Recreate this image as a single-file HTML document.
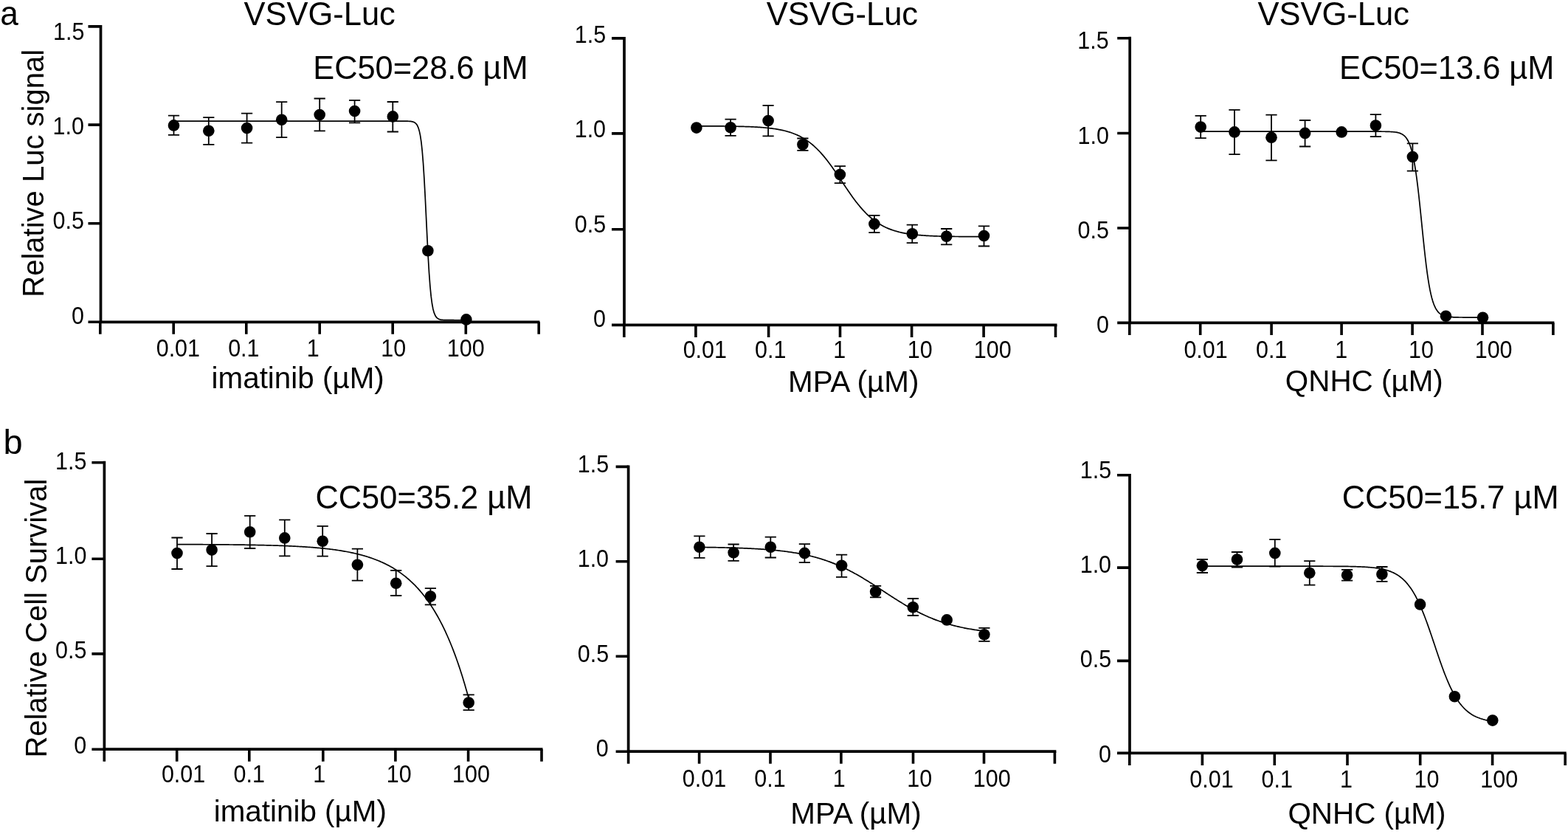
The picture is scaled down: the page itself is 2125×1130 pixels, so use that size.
<!DOCTYPE html>
<html><head><meta charset="utf-8"><title>Dose-response curves</title>
<style>html,body{margin:0;padding:0;background:#fff;overflow:hidden}svg{display:block}</style>
</head><body>
<svg width="2125" height="1130" viewBox="0 0 2125 1130">
<rect width="2125" height="1130" fill="#fff"/>
<g font-family='"Liberation Sans", Arial, Helvetica, sans-serif' fill="#000">
<path d="M136.5 34.05V436.3M134.65 436.3H731.4" stroke="#000" stroke-width="3.7" fill="none" stroke-linecap="butt"/>
<path d="M119.5 35.9H136.5M119.5 169.1H136.5M119.5 302.8H136.5M119.5 436.3H136.5M135.8 436.3V452.8M235.2 436.3V452.8M333.8 436.3V452.8M433.2 436.3V452.8M532.2 436.3V452.8M631.3 436.3V452.8M730.2 436.3V452.8" stroke="#000" stroke-width="3.6" fill="none"/>
<text transform="matrix(1 0 0 1.06 72 53.7)" font-size="30.5">1.5</text>
<text transform="matrix(1 0 0 1.06 71.5 182.4)" font-size="30.5">1.0</text>
<text transform="matrix(1 0 0 1.06 71.6 310.4)" font-size="30.5">0.5</text>
<text transform="matrix(1 0 0 1.06 97.1 438.8)" font-size="30.5">0</text>
<text transform="matrix(1 0 0 1.06 211.7 482.5)" font-size="30.5">0.01</text>
<text transform="matrix(1 0 0 1.06 309.15 482.5)" font-size="30.5">0.1</text>
<text transform="matrix(1 0 0 1.06 415.65 482.5)" font-size="30.5">1</text>
<text transform="matrix(1 0 0 1.06 516.35 482.5)" font-size="30.5">10</text>
<text transform="matrix(1 0 0 1.06 605.8 482.5)" font-size="30.5">100</text>
<text x="286.55" y="526.2" font-size="40.4">imatinib (µM)</text>
<text transform="matrix(1 0 0 1.04 330.4 33.5)" font-size="43.5">VSVG-Luc</text>
<text transform="matrix(1 0 0 1.04 424.2 106.7)" font-size="43.4">EC50=28.6 µM</text>
<polyline points="235.5,164.08 236.83,164.08 238.15,164.08 239.48,164.08 240.8,164.08 242.13,164.08 243.45,164.08 244.78,164.08 246.11,164.08 247.43,164.08 248.76,164.08 250.08,164.08 251.41,164.08 252.73,164.08 254.06,164.08 255.39,164.08 256.71,164.08 258.04,164.08 259.36,164.08 260.69,164.08 262.02,164.08 263.34,164.08 264.67,164.08 265.99,164.08 267.32,164.08 268.64,164.08 269.97,164.08 271.3,164.08 272.62,164.08 273.95,164.08 275.27,164.08 276.6,164.08 277.92,164.08 279.25,164.08 280.58,164.08 281.9,164.08 283.23,164.08 284.55,164.08 285.88,164.08 287.2,164.08 288.53,164.08 289.86,164.08 291.18,164.08 292.51,164.08 293.83,164.08 295.16,164.08 296.48,164.08 297.81,164.08 299.14,164.08 300.46,164.08 301.79,164.08 303.11,164.08 304.44,164.08 305.76,164.08 307.09,164.08 308.42,164.08 309.74,164.08 311.07,164.08 312.39,164.08 313.72,164.08 315.05,164.08 316.37,164.08 317.7,164.08 319.02,164.08 320.35,164.08 321.67,164.08 323,164.08 324.33,164.08 325.65,164.08 326.98,164.08 328.3,164.08 329.63,164.08 330.95,164.08 332.28,164.08 333.61,164.08 334.93,164.08 336.26,164.08 337.58,164.08 338.91,164.08 340.23,164.08 341.56,164.08 342.89,164.08 344.21,164.08 345.54,164.08 346.86,164.08 348.19,164.08 349.51,164.08 350.84,164.08 352.17,164.08 353.49,164.08 354.82,164.08 356.14,164.08 357.47,164.08 358.79,164.08 360.12,164.08 361.45,164.08 362.77,164.08 364.1,164.08 365.42,164.08 366.75,164.08 368.08,164.08 369.4,164.08 370.73,164.08 372.05,164.08 373.38,164.08 374.7,164.08 376.03,164.08 377.36,164.08 378.68,164.08 380.01,164.08 381.33,164.08 382.66,164.08 383.98,164.08 385.31,164.08 386.64,164.08 387.96,164.08 389.29,164.08 390.61,164.08 391.94,164.08 393.26,164.08 394.59,164.08 395.92,164.08 397.24,164.08 398.57,164.08 399.89,164.08 401.22,164.08 402.54,164.08 403.87,164.08 405.2,164.08 406.52,164.08 407.85,164.08 409.17,164.08 410.5,164.08 411.83,164.08 413.15,164.08 414.48,164.08 415.8,164.08 417.13,164.08 418.45,164.08 419.78,164.08 421.11,164.08 422.43,164.08 423.76,164.08 425.08,164.08 426.41,164.08 427.73,164.08 429.06,164.08 430.39,164.08 431.71,164.08 433.04,164.08 434.36,164.08 435.69,164.08 437.01,164.08 438.34,164.08 439.67,164.08 440.99,164.08 442.32,164.08 443.64,164.08 444.97,164.08 446.29,164.08 447.62,164.08 448.95,164.08 450.27,164.08 451.6,164.08 452.92,164.08 454.25,164.08 455.57,164.08 456.9,164.08 458.23,164.08 459.55,164.08 460.88,164.08 462.2,164.08 463.53,164.08 464.86,164.08 466.18,164.08 467.51,164.08 468.83,164.08 470.16,164.08 471.48,164.08 472.81,164.08 474.14,164.08 475.46,164.08 476.79,164.08 478.11,164.08 479.44,164.08 480.76,164.08 482.09,164.08 483.42,164.08 484.74,164.08 486.07,164.08 487.39,164.08 488.72,164.08 490.04,164.08 491.37,164.08 492.7,164.08 494.02,164.08 495.35,164.08 496.67,164.08 498,164.08 499.32,164.08 500.65,164.08 501.98,164.08 503.3,164.08 504.63,164.08 505.95,164.08 507.28,164.08 508.61,164.08 509.93,164.08 511.26,164.08 512.58,164.08 513.91,164.08 515.23,164.08 516.56,164.08 517.89,164.08 519.21,164.08 520.54,164.08 521.86,164.08 523.19,164.08 524.51,164.08 525.84,164.08 527.17,164.08 528.49,164.08 529.82,164.08 531.14,164.08 532.47,164.09 533.79,164.09 535.12,164.09 536.45,164.09 537.77,164.09 539.1,164.09 540.42,164.09 541.75,164.09 543.07,164.09 544.4,164.09 545.73,164.1 547.05,164.1 548.38,164.11 549.7,164.13 551.03,164.15 552.35,164.18 553.68,164.24 555.01,164.31 556.33,164.43 557.66,164.6 558.98,164.86 560.31,165.26 561.64,165.86 562.96,166.75 564.29,168.09 565.61,170.09 566.94,173.05 568.26,177.39 569.59,183.68 570.92,192.62 572.24,204.96 573.57,221.37 574.89,242.13 576.22,266.77 577.54,293.91 578.87,321.47 580.2,347.22 581.52,369.47 582.85,387.45 584.17,401.19 585.5,411.26 586.82,418.42 588.15,423.39 589.48,426.79 590.8,429.09 592.13,430.64 593.45,431.67 594.78,432.36 596.1,432.82 597.43,433.13 598.76,433.33 600.08,433.46 601.41,433.55 602.73,433.61 604.06,433.65 605.38,433.68 606.71,433.69 608.04,433.7 609.36,433.71 610.69,433.72 612.01,433.72 613.34,433.72 614.67,433.72 615.99,433.73 617.32,433.73 618.64,433.73 619.97,433.73 621.29,433.73 622.62,433.73 623.95,433.73 625.27,433.73 626.6,433.73 627.92,433.73 629.25,433.73 630.57,433.73 631.9,433.73" fill="none" stroke="#000" stroke-width="1.7" stroke-linejoin="round"/>
<path d="M235.5 156.7V182.8M227.9 156.7H243.1M227.9 182.8H243.1M282.8 159.2V195.9M275.2 159.2H290.4M275.2 195.9H290.4M334.6 153.6V193.7M327 153.6H342.2M327 193.7H342.2M381.7 138.1V186.1M374.1 138.1H389.3M374.1 186.1H389.3M433.2 133.5V177.3M425.6 133.5H440.8M425.6 177.3H440.8M480.6 135.9V166.3M473 135.9H488.2M473 166.3H488.2M532.3 138V178.5M524.7 138H539.9M524.7 178.5H539.9" stroke="#000" stroke-width="1.8" fill="none"/>
<circle cx="235.5" cy="169.9" r="7.8"/>
<circle cx="282.8" cy="177.3" r="7.8"/>
<circle cx="334.6" cy="173.6" r="7.8"/>
<circle cx="381.7" cy="162.2" r="7.8"/>
<circle cx="433.2" cy="155.5" r="7.8"/>
<circle cx="480.6" cy="150.6" r="7.8"/>
<circle cx="532.3" cy="157.9" r="7.8"/>
<circle cx="579.9" cy="339.8" r="7.8"/>
<circle cx="631.9" cy="432.9" r="7.8"/>
<path d="M846 50.05V440.4M844.15 440.4H1432.5" stroke="#000" stroke-width="3.7" fill="none" stroke-linecap="butt"/>
<path d="M829 51.9H846M829 180.9H846M829 310.7H846M829 440.4H846M845.8 440.4V456.9M942.9 440.4V456.9M1041.6 440.4V456.9M1138.5 440.4V456.9M1235.6 440.4V456.9M1333.1 440.4V456.9M1430.5 440.4V456.9" stroke="#000" stroke-width="3.6" fill="none"/>
<text transform="matrix(1 0 0 1.06 778.8 57.8)" font-size="30.5">1.5</text>
<text transform="matrix(1 0 0 1.06 778.7 186.1)" font-size="30.5">1.0</text>
<text transform="matrix(1 0 0 1.06 778.8 314.5)" font-size="30.5">0.5</text>
<text transform="matrix(1 0 0 1.06 804.1 442.7)" font-size="30.5">0</text>
<text transform="matrix(1 0 0 1.06 925.65 484.5)" font-size="30.5">0.01</text>
<text transform="matrix(1 0 0 1.06 1023 484.5)" font-size="30.5">0.1</text>
<text transform="matrix(1 0 0 1.06 1129.35 484.5)" font-size="30.5">1</text>
<text transform="matrix(1 0 0 1.06 1229.7 484.5)" font-size="30.5">10</text>
<text transform="matrix(1 0 0 1.06 1319.75 484.5)" font-size="30.5">100</text>
<text x="1068" y="530.5" font-size="40.4">MPA (µM)</text>
<text transform="matrix(1 0 0 1.04 1038.7 33.5)" font-size="43.5">VSVG-Luc</text>
<polyline points="943.9,170.78 945.2,170.78 946.51,170.79 947.81,170.79 949.11,170.79 950.42,170.8 951.72,170.8 953.02,170.8 954.32,170.81 955.63,170.81 956.93,170.82 958.23,170.82 959.54,170.83 960.84,170.83 962.14,170.84 963.45,170.85 964.75,170.85 966.05,170.86 967.35,170.87 968.66,170.88 969.96,170.88 971.26,170.89 972.57,170.9 973.87,170.91 975.17,170.92 976.48,170.93 977.78,170.94 979.08,170.95 980.38,170.97 981.69,170.98 982.99,170.99 984.29,171.01 985.6,171.02 986.9,171.04 988.2,171.06 989.51,171.07 990.81,171.09 992.11,171.11 993.41,171.13 994.72,171.15 996.02,171.18 997.32,171.2 998.63,171.23 999.93,171.25 1001.23,171.28 1002.54,171.31 1003.84,171.34 1005.14,171.38 1006.44,171.41 1007.75,171.45 1009.05,171.49 1010.35,171.53 1011.66,171.57 1012.96,171.62 1014.26,171.66 1015.57,171.71 1016.87,171.77 1018.17,171.82 1019.47,171.88 1020.78,171.94 1022.08,172.01 1023.38,172.07 1024.69,172.15 1025.99,172.22 1027.29,172.3 1028.6,172.38 1029.9,172.47 1031.2,172.56 1032.5,172.66 1033.81,172.76 1035.11,172.87 1036.41,172.98 1037.72,173.1 1039.02,173.23 1040.32,173.36 1041.63,173.5 1042.93,173.64 1044.23,173.8 1045.53,173.96 1046.84,174.13 1048.14,174.31 1049.44,174.49 1050.75,174.69 1052.05,174.89 1053.35,175.11 1054.66,175.34 1055.96,175.58 1057.26,175.83 1058.56,176.09 1059.87,176.37 1061.17,176.66 1062.47,176.96 1063.78,177.28 1065.08,177.62 1066.38,177.97 1067.69,178.34 1068.99,178.72 1070.29,179.13 1071.59,179.55 1072.9,179.99 1074.2,180.46 1075.5,180.94 1076.81,181.45 1078.11,181.98 1079.41,182.54 1080.72,183.12 1082.02,183.72 1083.32,184.36 1084.63,185.02 1085.93,185.71 1087.23,186.42 1088.53,187.17 1089.84,187.95 1091.14,188.76 1092.44,189.61 1093.75,190.48 1095.05,191.4 1096.35,192.34 1097.66,193.33 1098.96,194.35 1100.26,195.4 1101.56,196.5 1102.87,197.63 1104.17,198.8 1105.47,200.01 1106.78,201.26 1108.08,202.54 1109.38,203.87 1110.69,205.24 1111.99,206.64 1113.29,208.09 1114.59,209.57 1115.9,211.09 1117.2,212.65 1118.5,214.24 1119.81,215.87 1121.11,217.53 1122.41,219.22 1123.72,220.95 1125.02,222.71 1126.32,224.49 1127.62,226.31 1128.93,228.14 1130.23,230 1131.53,231.88 1132.84,233.78 1134.14,235.69 1135.44,237.62 1136.75,239.56 1138.05,241.51 1139.35,243.46 1140.65,245.41 1141.96,247.37 1143.26,249.32 1144.56,251.27 1145.87,253.21 1147.17,255.15 1148.47,257.06 1149.78,258.97 1151.08,260.85 1152.38,262.72 1153.68,264.57 1154.99,266.39 1156.29,268.18 1157.59,269.95 1158.9,271.69 1160.2,273.4 1161.5,275.07 1162.81,276.71 1164.11,278.32 1165.41,279.89 1166.71,281.42 1168.02,282.91 1169.32,284.37 1170.62,285.79 1171.93,287.17 1173.23,288.51 1174.53,289.81 1175.84,291.08 1177.14,292.3 1178.44,293.48 1179.74,294.63 1181.05,295.74 1182.35,296.81 1183.65,297.84 1184.96,298.83 1186.26,299.79 1187.56,300.72 1188.87,301.61 1190.17,302.46 1191.47,303.29 1192.77,304.08 1194.08,304.84 1195.38,305.57 1196.68,306.26 1197.99,306.93 1199.29,307.58 1200.59,308.19 1201.9,308.78 1203.2,309.35 1204.5,309.89 1205.81,310.4 1207.11,310.89 1208.41,311.37 1209.71,311.82 1211.02,312.25 1212.32,312.66 1213.62,313.05 1214.93,313.42 1216.23,313.78 1217.53,314.12 1218.84,314.45 1220.14,314.76 1221.44,315.05 1222.74,315.33 1224.05,315.6 1225.35,315.86 1226.65,316.1 1227.96,316.33 1229.26,316.55 1230.56,316.76 1231.87,316.96 1233.17,317.15 1234.47,317.33 1235.77,317.51 1237.08,317.67 1238.38,317.83 1239.68,317.97 1240.99,318.12 1242.29,318.25 1243.59,318.38 1244.9,318.5 1246.2,318.61 1247.5,318.72 1248.8,318.83 1250.11,318.93 1251.41,319.02 1252.71,319.11 1254.02,319.19 1255.32,319.28 1256.62,319.35 1257.93,319.42 1259.23,319.49 1260.53,319.56 1261.83,319.62 1263.14,319.68 1264.44,319.74 1265.74,319.79 1267.05,319.84 1268.35,319.89 1269.65,319.94 1270.96,319.98 1272.26,320.02 1273.56,320.06 1274.86,320.1 1276.17,320.13 1277.47,320.17 1278.77,320.2 1280.08,320.23 1281.38,320.26 1282.68,320.29 1283.99,320.31 1285.29,320.34 1286.59,320.36 1287.89,320.38 1289.2,320.4 1290.5,320.42 1291.8,320.44 1293.11,320.46 1294.41,320.48 1295.71,320.49 1297.02,320.51 1298.32,320.52 1299.62,320.54 1300.92,320.55 1302.23,320.56 1303.53,320.58 1304.83,320.59 1306.14,320.6 1307.44,320.61 1308.74,320.62 1310.05,320.63 1311.35,320.64 1312.65,320.64 1313.95,320.65 1315.26,320.66 1316.56,320.67 1317.86,320.67 1319.17,320.68 1320.47,320.69 1321.77,320.69 1323.08,320.7 1324.38,320.7 1325.68,320.71 1326.98,320.71 1328.29,320.72 1329.59,320.72 1330.89,320.73 1332.2,320.73 1333.5,320.73" fill="none" stroke="#000" stroke-width="1.7" stroke-linejoin="round"/>
<path d="M990.1 161.6V183.8M982.5 161.6H997.7M982.5 183.8H997.7M1041.1 142.8V184.4M1033.5 142.8H1048.7M1033.5 184.4H1048.7M1087.9 187.5V203.8M1080.3 187.5H1095.5M1080.3 203.8H1095.5M1138.4 225.1V248.1M1130.8 225.1H1146M1130.8 248.1H1146M1184.9 291.9V315.2M1177.3 291.9H1192.5M1177.3 315.2H1192.5M1236.3 304.7V329.2M1228.7 304.7H1243.9M1228.7 329.2H1243.9M1282.7 310V331.3M1275.1 310H1290.3M1275.1 331.3H1290.3M1333.5 306.3V333.5M1325.9 306.3H1341.1M1325.9 333.5H1341.1" stroke="#000" stroke-width="1.8" fill="none"/>
<circle cx="943.9" cy="173.1" r="7.8"/>
<circle cx="990.1" cy="172.8" r="7.8"/>
<circle cx="1041.1" cy="163.6" r="7.8"/>
<circle cx="1087.9" cy="195.8" r="7.8"/>
<circle cx="1138.4" cy="236.5" r="7.8"/>
<circle cx="1184.9" cy="303.4" r="7.8"/>
<circle cx="1236.3" cy="316.7" r="7.8"/>
<circle cx="1282.7" cy="320.2" r="7.8"/>
<circle cx="1333.5" cy="319.5" r="7.8"/>
<path d="M1531.2 49.85V437.4M1529.35 437.4H2106.4" stroke="#000" stroke-width="3.7" fill="none" stroke-linecap="butt"/>
<path d="M1514.2 51.7H1531.2M1514.2 180.5H1531.2M1514.2 309H1531.2M1514.2 437.4H1531.2M1530.8 437.4V453.9M1626.7 437.4V453.9M1723.1 437.4V453.9M1818.1 437.4V453.9M1914.1 437.4V453.9M2009 437.4V453.9M2104.9 437.4V453.9" stroke="#000" stroke-width="3.6" fill="none"/>
<text transform="matrix(1 0 0 1.06 1460.3 65.8)" font-size="30.5">1.5</text>
<text transform="matrix(1 0 0 1.06 1460.5 194.6)" font-size="30.5">1.0</text>
<text transform="matrix(1 0 0 1.06 1460.6 322.7)" font-size="30.5">0.5</text>
<text transform="matrix(1 0 0 1.06 1485.9 450.7)" font-size="30.5">0</text>
<text transform="matrix(1 0 0 1.06 1604.4 484.7)" font-size="30.5">0.01</text>
<text transform="matrix(1 0 0 1.06 1701.95 484.7)" font-size="30.5">0.1</text>
<text transform="matrix(1 0 0 1.06 1809.15 484.7)" font-size="30.5">1</text>
<text transform="matrix(1 0 0 1.06 1909.05 484.7)" font-size="30.5">10</text>
<text transform="matrix(1 0 0 1.06 1998.7 484.7)" font-size="30.5">100</text>
<text x="1741.8" y="530.1" font-size="40.4">QNHC (µM)</text>
<text transform="matrix(1 0 0 1.04 1704.5 33.5)" font-size="43.5">VSVG-Luc</text>
<text transform="matrix(1 0 0 1.04 1814.95 106.7)" font-size="43.4">EC50=13.6 µM</text>
<polyline points="1627.2,178.18 1628.48,178.18 1629.76,178.18 1631.04,178.18 1632.31,178.18 1633.59,178.18 1634.87,178.18 1636.15,178.18 1637.43,178.18 1638.71,178.18 1639.99,178.18 1641.26,178.18 1642.54,178.18 1643.82,178.18 1645.1,178.18 1646.38,178.18 1647.66,178.18 1648.94,178.18 1650.21,178.18 1651.49,178.18 1652.77,178.18 1654.05,178.18 1655.33,178.18 1656.61,178.18 1657.89,178.18 1659.16,178.18 1660.44,178.18 1661.72,178.18 1663,178.18 1664.28,178.18 1665.56,178.18 1666.84,178.18 1668.12,178.18 1669.39,178.18 1670.67,178.18 1671.95,178.18 1673.23,178.18 1674.51,178.18 1675.79,178.18 1677.07,178.18 1678.34,178.18 1679.62,178.18 1680.9,178.18 1682.18,178.18 1683.46,178.18 1684.74,178.18 1686.02,178.18 1687.29,178.18 1688.57,178.18 1689.85,178.18 1691.13,178.18 1692.41,178.18 1693.69,178.18 1694.97,178.18 1696.24,178.18 1697.52,178.18 1698.8,178.18 1700.08,178.18 1701.36,178.18 1702.64,178.18 1703.92,178.18 1705.19,178.18 1706.47,178.18 1707.75,178.18 1709.03,178.18 1710.31,178.18 1711.59,178.18 1712.87,178.18 1714.14,178.18 1715.42,178.18 1716.7,178.18 1717.98,178.18 1719.26,178.18 1720.54,178.18 1721.82,178.18 1723.09,178.18 1724.37,178.18 1725.65,178.18 1726.93,178.18 1728.21,178.18 1729.49,178.18 1730.77,178.18 1732.04,178.18 1733.32,178.18 1734.6,178.18 1735.88,178.18 1737.16,178.18 1738.44,178.18 1739.72,178.18 1740.99,178.18 1742.27,178.18 1743.55,178.18 1744.83,178.18 1746.11,178.18 1747.39,178.18 1748.67,178.18 1749.95,178.18 1751.22,178.18 1752.5,178.18 1753.78,178.18 1755.06,178.18 1756.34,178.18 1757.62,178.18 1758.9,178.18 1760.17,178.18 1761.45,178.18 1762.73,178.18 1764.01,178.18 1765.29,178.18 1766.57,178.18 1767.85,178.18 1769.12,178.18 1770.4,178.18 1771.68,178.18 1772.96,178.18 1774.24,178.18 1775.52,178.18 1776.8,178.18 1778.07,178.18 1779.35,178.18 1780.63,178.18 1781.91,178.18 1783.19,178.18 1784.47,178.18 1785.75,178.18 1787.02,178.18 1788.3,178.18 1789.58,178.18 1790.86,178.18 1792.14,178.18 1793.42,178.18 1794.7,178.18 1795.97,178.18 1797.25,178.18 1798.53,178.18 1799.81,178.18 1801.09,178.18 1802.37,178.18 1803.65,178.18 1804.92,178.18 1806.2,178.18 1807.48,178.18 1808.76,178.18 1810.04,178.18 1811.32,178.18 1812.6,178.18 1813.87,178.18 1815.15,178.18 1816.43,178.18 1817.71,178.18 1818.99,178.18 1820.27,178.18 1821.55,178.18 1822.83,178.18 1824.1,178.18 1825.38,178.18 1826.66,178.18 1827.94,178.18 1829.22,178.18 1830.5,178.18 1831.78,178.18 1833.05,178.18 1834.33,178.18 1835.61,178.18 1836.89,178.18 1838.17,178.19 1839.45,178.19 1840.73,178.19 1842,178.19 1843.28,178.19 1844.56,178.19 1845.84,178.19 1847.12,178.19 1848.4,178.19 1849.68,178.19 1850.95,178.19 1852.23,178.19 1853.51,178.19 1854.79,178.19 1856.07,178.19 1857.35,178.19 1858.63,178.19 1859.9,178.19 1861.18,178.19 1862.46,178.19 1863.74,178.2 1865.02,178.2 1866.3,178.2 1867.58,178.21 1868.85,178.21 1870.13,178.22 1871.41,178.22 1872.69,178.23 1873.97,178.24 1875.25,178.26 1876.53,178.27 1877.8,178.29 1879.08,178.32 1880.36,178.35 1881.64,178.38 1882.92,178.43 1884.2,178.48 1885.48,178.55 1886.75,178.63 1888.03,178.73 1889.31,178.85 1890.59,179 1891.87,179.18 1893.15,179.4 1894.43,179.67 1895.71,180 1896.98,180.4 1898.26,180.9 1899.54,181.49 1900.82,182.22 1902.1,183.11 1903.38,184.19 1904.66,185.49 1905.93,187.07 1907.21,188.97 1908.49,191.26 1909.77,194.01 1911.05,197.28 1912.33,201.17 1913.61,205.75 1914.88,211.12 1916.16,217.34 1917.44,224.5 1918.72,232.62 1920,241.74 1921.28,251.81 1922.56,262.76 1923.83,274.45 1925.11,286.72 1926.39,299.33 1927.67,312.04 1928.95,324.59 1930.23,336.73 1931.51,348.26 1932.78,359.01 1934.06,368.84 1935.34,377.72 1936.62,385.6 1937.9,392.52 1939.18,398.53 1940.46,403.7 1941.73,408.1 1943.01,411.83 1944.29,414.97 1945.57,417.59 1946.85,419.78 1948.13,421.6 1949.41,423.11 1950.68,424.35 1951.96,425.38 1953.24,426.22 1954.52,426.92 1955.8,427.49 1957.08,427.96 1958.36,428.34 1959.63,428.66 1960.91,428.91 1962.19,429.12 1963.47,429.3 1964.75,429.44 1966.03,429.55 1967.31,429.65 1968.58,429.72 1969.86,429.79 1971.14,429.84 1972.42,429.88 1973.7,429.92 1974.98,429.94 1976.26,429.97 1977.54,429.99 1978.81,430 1980.09,430.01 1981.37,430.02 1982.65,430.03 1983.93,430.04 1985.21,430.05 1986.49,430.05 1987.76,430.05 1989.04,430.06 1990.32,430.06 1991.6,430.06 1992.88,430.06 1994.16,430.06 1995.44,430.07 1996.71,430.07 1997.99,430.07 1999.27,430.07 2000.55,430.07 2001.83,430.07 2003.11,430.07 2004.39,430.07 2005.66,430.07 2006.94,430.07 2008.22,430.07 2009.5,430.07" fill="none" stroke="#000" stroke-width="1.7" stroke-linejoin="round"/>
<path d="M1627.2 156.8V187.1M1619.6 156.8H1634.8M1619.6 187.1H1634.8M1673 148.9V209.1M1665.4 148.9H1680.6M1665.4 209.1H1680.6M1723 155.7V217.3M1715.4 155.7H1730.6M1715.4 217.3H1730.6M1768.6 163V198.5M1761 163H1776.2M1761 198.5H1776.2M1864.4 155.1V185.2M1856.8 155.1H1872M1856.8 185.2H1872M1914.4 194.4V231.6M1906.8 194.4H1922M1906.8 231.6H1922" stroke="#000" stroke-width="1.8" fill="none"/>
<circle cx="1627.2" cy="172.1" r="7.8"/>
<circle cx="1673" cy="178.9" r="7.8"/>
<circle cx="1723" cy="186.3" r="7.8"/>
<circle cx="1768.6" cy="180.4" r="7.8"/>
<circle cx="1818.2" cy="178.9" r="7.8"/>
<circle cx="1864.4" cy="170" r="7.8"/>
<circle cx="1914.4" cy="212.5" r="7.8"/>
<circle cx="1959.5" cy="428.2" r="7.8"/>
<circle cx="2009.5" cy="430.3" r="7.8"/>
<path d="M141.4 624.85V1015.2M139.55 1015.2H735.5" stroke="#000" stroke-width="3.7" fill="none" stroke-linecap="butt"/>
<path d="M124.4 626.7H141.4M124.4 757.2H141.4M124.4 885.9H141.4M124.4 1015.2H141.4M141.3 1015.2V1031.7M239.7 1015.2V1031.7M337.8 1015.2V1031.7M437.8 1015.2V1031.7M535.9 1015.2V1031.7M634.6 1015.2V1031.7M734 1015.2V1031.7" stroke="#000" stroke-width="3.6" fill="none"/>
<text transform="matrix(1 0 0 1.06 75.1 635.6)" font-size="30.5">1.5</text>
<text transform="matrix(1 0 0 1.06 75 764)" font-size="30.5">1.0</text>
<text transform="matrix(1 0 0 1.06 75.1 892.3)" font-size="30.5">0.5</text>
<text transform="matrix(1 0 0 1.06 100.2 1020.6)" font-size="30.5">0</text>
<text transform="matrix(1 0 0 1.06 218.9 1060.3)" font-size="30.5">0.01</text>
<text transform="matrix(1 0 0 1.06 316.5 1060.3)" font-size="30.5">0.1</text>
<text transform="matrix(1 0 0 1.06 424.35 1060.3)" font-size="30.5">1</text>
<text transform="matrix(1 0 0 1.06 523.7 1060.3)" font-size="30.5">10</text>
<text transform="matrix(1 0 0 1.06 613.1 1060.3)" font-size="30.5">100</text>
<text x="289.7" y="1112.6" font-size="40.4">imatinib (µM)</text>
<text transform="matrix(1 0 0 1.04 427.45 688.9)" font-size="43.4">CC50=35.2 µM</text>
<polyline points="240,737.59 241.32,737.6 242.64,737.6 243.97,737.61 245.29,737.61 246.61,737.61 247.93,737.62 249.25,737.62 250.57,737.63 251.9,737.63 253.22,737.63 254.54,737.64 255.86,737.64 257.18,737.65 258.5,737.65 259.83,737.66 261.15,737.66 262.47,737.67 263.79,737.67 265.11,737.68 266.43,737.68 267.76,737.69 269.08,737.7 270.4,737.7 271.72,737.71 273.04,737.71 274.37,737.72 275.69,737.73 277.01,737.73 278.33,737.74 279.65,737.75 280.97,737.76 282.3,737.76 283.62,737.77 284.94,737.78 286.26,737.79 287.58,737.79 288.9,737.8 290.23,737.81 291.55,737.82 292.87,737.83 294.19,737.84 295.51,737.85 296.83,737.86 298.16,737.87 299.48,737.88 300.8,737.89 302.12,737.9 303.44,737.91 304.77,737.92 306.09,737.93 307.41,737.95 308.73,737.96 310.05,737.97 311.37,737.98 312.7,738 314.02,738.01 315.34,738.02 316.66,738.04 317.98,738.05 319.3,738.07 320.63,738.08 321.95,738.1 323.27,738.11 324.59,738.13 325.91,738.15 327.23,738.16 328.56,738.18 329.88,738.2 331.2,738.22 332.52,738.24 333.84,738.26 335.17,738.28 336.49,738.3 337.81,738.32 339.13,738.34 340.45,738.36 341.77,738.38 343.1,738.41 344.42,738.43 345.74,738.46 347.06,738.48 348.38,738.51 349.7,738.53 351.03,738.56 352.35,738.59 353.67,738.62 354.99,738.64 356.31,738.67 357.63,738.7 358.96,738.73 360.28,738.77 361.6,738.8 362.92,738.83 364.24,738.87 365.57,738.9 366.89,738.94 368.21,738.98 369.53,739.01 370.85,739.05 372.17,739.09 373.5,739.13 374.82,739.17 376.14,739.22 377.46,739.26 378.78,739.31 380.1,739.35 381.43,739.4 382.75,739.45 384.07,739.5 385.39,739.55 386.71,739.6 388.03,739.65 389.36,739.71 390.68,739.76 392,739.82 393.32,739.88 394.64,739.94 395.97,740 397.29,740.06 398.61,740.13 399.93,740.2 401.25,740.26 402.57,740.33 403.9,740.41 405.22,740.48 406.54,740.55 407.86,740.63 409.18,740.71 410.5,740.79 411.83,740.87 413.15,740.96 414.47,741.05 415.79,741.14 417.11,741.23 418.43,741.32 419.76,741.42 421.08,741.52 422.4,741.62 423.72,741.72 425.04,741.83 426.37,741.94 427.69,742.05 429.01,742.16 430.33,742.28 431.65,742.4 432.97,742.52 434.3,742.65 435.62,742.78 436.94,742.91 438.26,743.04 439.58,743.18 440.9,743.32 442.23,743.47 443.55,743.62 444.87,743.77 446.19,743.93 447.51,744.09 448.83,744.26 450.16,744.42 451.48,744.6 452.8,744.77 454.12,744.96 455.44,745.14 456.77,745.33 458.09,745.53 459.41,745.73 460.73,745.94 462.05,746.15 463.37,746.36 464.7,746.58 466.02,746.81 467.34,747.04 468.66,747.28 469.98,747.53 471.3,747.78 472.63,748.03 473.95,748.29 475.27,748.56 476.59,748.84 477.91,749.12 479.23,749.41 480.56,749.71 481.88,750.01 483.2,750.32 484.52,750.64 485.84,750.97 487.17,751.31 488.49,751.65 489.81,752 491.13,752.36 492.45,752.73 493.77,753.11 495.1,753.5 496.42,753.9 497.74,754.3 499.06,754.72 500.38,755.15 501.7,755.59 503.03,756.04 504.35,756.5 505.67,756.97 506.99,757.46 508.31,757.95 509.63,758.46 510.96,758.98 512.28,759.51 513.6,760.06 514.92,760.62 516.24,761.19 517.57,761.78 518.89,762.38 520.21,763 521.53,763.63 522.85,764.28 524.17,764.94 525.5,765.62 526.82,766.32 528.14,767.04 529.46,767.77 530.78,768.52 532.1,769.28 533.43,770.07 534.75,770.88 536.07,771.7 537.39,772.55 538.71,773.42 540.03,774.31 541.36,775.22 542.68,776.15 544,777.1 545.32,778.08 546.64,779.09 547.97,780.11 549.29,781.16 550.61,782.24 551.93,783.35 553.25,784.48 554.57,785.64 555.9,786.83 557.22,788.04 558.54,789.29 559.86,790.56 561.18,791.87 562.5,793.21 563.83,794.58 565.15,795.99 566.47,797.43 567.79,798.9 569.11,800.41 570.43,801.96 571.76,803.54 573.08,805.17 574.4,806.83 575.72,808.53 577.04,810.27 578.37,812.06 579.69,813.89 581.01,815.76 582.33,817.68 583.65,819.65 584.97,821.66 586.3,823.72 587.62,825.83 588.94,827.99 590.26,830.2 591.58,832.46 592.9,834.78 594.23,837.16 595.55,839.59 596.87,842.08 598.19,844.63 599.51,847.24 600.83,849.91 602.16,852.65 603.48,855.45 604.8,858.32 606.12,861.25 607.44,864.26 608.77,867.33 610.09,870.48 611.41,873.71 612.73,877 614.05,880.38 615.37,883.84 616.7,887.37 618.02,890.99 619.34,894.7 620.66,898.49 621.98,902.37 623.3,906.34 624.63,910.4 625.95,914.56 627.27,918.81 628.59,923.16 629.91,927.61 631.23,932.17 632.56,936.82 633.88,941.59 635.2,946.46" fill="none" stroke="#000" stroke-width="1.7" stroke-linejoin="round"/>
<path d="M240 728.5V771M232.4 728.5H247.6M232.4 771H247.6M287.1 723V767.1M279.5 723H294.7M279.5 767.1H294.7M338.7 698.8V743M331.1 698.8H346.3M331.1 743H346.3M385.8 704.3V753.3M378.2 704.3H393.4M378.2 753.3H393.4M437.2 712.9V753.6M429.6 712.9H444.8M429.6 753.6H444.8M484.4 743.7V786.7M476.8 743.7H492M476.8 786.7H492M536.7 772.9V807M529.1 772.9H544.3M529.1 807H544.3M583.4 797.1V819.4M575.8 797.1H591M575.8 819.4H591M635.2 941.4V962.1M627.6 941.4H642.8M627.6 962.1H642.8" stroke="#000" stroke-width="1.8" fill="none"/>
<circle cx="240" cy="749.6" r="7.8"/>
<circle cx="287.1" cy="745.1" r="7.8"/>
<circle cx="338.7" cy="720.8" r="7.8"/>
<circle cx="385.8" cy="728.9" r="7.8"/>
<circle cx="437.2" cy="733.2" r="7.8"/>
<circle cx="484.4" cy="765.3" r="7.8"/>
<circle cx="536.7" cy="790.2" r="7.8"/>
<circle cx="583.4" cy="808.1" r="7.8"/>
<circle cx="635.2" cy="952" r="7.8"/>
<path d="M851.6 630.55V1018.2M849.75 1018.2H1431.4" stroke="#000" stroke-width="3.7" fill="none" stroke-linecap="butt"/>
<path d="M834.6 632.4H851.6M834.6 760.7H851.6M834.6 889.3H851.6M834.6 1018.2H851.6M851.6 1018.2V1034.7M947.6 1018.2V1034.7M1044 1018.2V1034.7M1139.9 1018.2V1034.7M1237.5 1018.2V1034.7M1333.5 1018.2V1034.7M1429.4 1018.2V1034.7" stroke="#000" stroke-width="3.6" fill="none"/>
<text transform="matrix(1 0 0 1.06 782.8 639.7)" font-size="30.5">1.5</text>
<text transform="matrix(1 0 0 1.06 782.7 767.8)" font-size="30.5">1.0</text>
<text transform="matrix(1 0 0 1.06 782.8 896.6)" font-size="30.5">0.5</text>
<text transform="matrix(1 0 0 1.06 807.8 1024.6)" font-size="30.5">0</text>
<text transform="matrix(1 0 0 1.06 924.8 1066.3)" font-size="30.5">0.01</text>
<text transform="matrix(1 0 0 1.06 1022.25 1066.3)" font-size="30.5">0.1</text>
<text transform="matrix(1 0 0 1.06 1128.75 1066.3)" font-size="30.5">1</text>
<text transform="matrix(1 0 0 1.06 1229.3 1066.3)" font-size="30.5">10</text>
<text transform="matrix(1 0 0 1.06 1318.75 1066.3)" font-size="30.5">100</text>
<text x="1071.35" y="1115.9" font-size="40.4">MPA (µM)</text>
<polyline points="947.9,741.4 949.19,741.41 950.48,741.43 951.77,741.44 953.06,741.46 954.35,741.48 955.65,741.49 956.94,741.51 958.23,741.53 959.52,741.55 960.81,741.57 962.1,741.59 963.39,741.61 964.68,741.63 965.97,741.65 967.26,741.67 968.56,741.69 969.85,741.71 971.14,741.74 972.43,741.76 973.72,741.79 975.01,741.81 976.3,741.84 977.59,741.87 978.88,741.89 980.17,741.92 981.47,741.95 982.76,741.98 984.05,742.01 985.34,742.05 986.63,742.08 987.92,742.11 989.21,742.15 990.5,742.18 991.79,742.22 993.08,742.26 994.37,742.3 995.67,742.34 996.96,742.38 998.25,742.42 999.54,742.46 1000.83,742.51 1002.12,742.55 1003.41,742.6 1004.7,742.65 1005.99,742.7 1007.28,742.75 1008.58,742.8 1009.87,742.86 1011.16,742.91 1012.45,742.97 1013.74,743.03 1015.03,743.09 1016.32,743.15 1017.61,743.21 1018.9,743.28 1020.19,743.35 1021.49,743.42 1022.78,743.49 1024.07,743.56 1025.36,743.63 1026.65,743.71 1027.94,743.79 1029.23,743.87 1030.52,743.95 1031.81,744.04 1033.1,744.13 1034.39,744.22 1035.69,744.31 1036.98,744.41 1038.27,744.5 1039.56,744.6 1040.85,744.71 1042.14,744.81 1043.43,744.92 1044.72,745.03 1046.01,745.15 1047.3,745.27 1048.6,745.39 1049.89,745.51 1051.18,745.64 1052.47,745.77 1053.76,745.9 1055.05,746.04 1056.34,746.18 1057.63,746.32 1058.92,746.47 1060.21,746.63 1061.51,746.78 1062.8,746.94 1064.09,747.11 1065.38,747.28 1066.67,747.45 1067.96,747.63 1069.25,747.81 1070.54,747.99 1071.83,748.18 1073.12,748.38 1074.42,748.58 1075.71,748.79 1077,749 1078.29,749.21 1079.58,749.44 1080.87,749.66 1082.16,749.9 1083.45,750.13 1084.74,750.38 1086.03,750.63 1087.32,750.88 1088.62,751.14 1089.91,751.41 1091.2,751.69 1092.49,751.97 1093.78,752.25 1095.07,752.55 1096.36,752.85 1097.65,753.16 1098.94,753.47 1100.23,753.79 1101.53,754.12 1102.82,754.46 1104.11,754.8 1105.4,755.15 1106.69,755.51 1107.98,755.88 1109.27,756.25 1110.56,756.63 1111.85,757.02 1113.14,757.42 1114.44,757.83 1115.73,758.24 1117.02,758.66 1118.31,759.1 1119.6,759.54 1120.89,759.98 1122.18,760.44 1123.47,760.91 1124.76,761.38 1126.05,761.87 1127.34,762.36 1128.64,762.86 1129.93,763.37 1131.22,763.89 1132.51,764.42 1133.8,764.96 1135.09,765.51 1136.38,766.07 1137.67,766.63 1138.96,767.21 1140.25,767.79 1141.55,768.39 1142.84,768.99 1144.13,769.6 1145.42,770.22 1146.71,770.85 1148,771.49 1149.29,772.14 1150.58,772.79 1151.87,773.46 1153.16,774.13 1154.46,774.82 1155.75,775.51 1157.04,776.21 1158.33,776.91 1159.62,777.63 1160.91,778.35 1162.2,779.08 1163.49,779.82 1164.78,780.57 1166.07,781.32 1167.36,782.08 1168.66,782.84 1169.95,783.62 1171.24,784.4 1172.53,785.18 1173.82,785.97 1175.11,786.77 1176.4,787.57 1177.69,788.38 1178.98,789.19 1180.27,790.01 1181.57,790.83 1182.86,791.65 1184.15,792.48 1185.44,793.31 1186.73,794.14 1188.02,794.98 1189.31,795.82 1190.6,796.66 1191.89,797.5 1193.18,798.35 1194.48,799.19 1195.77,800.04 1197.06,800.88 1198.35,801.73 1199.64,802.57 1200.93,803.42 1202.22,804.26 1203.51,805.1 1204.8,805.94 1206.09,806.78 1207.38,807.62 1208.68,808.45 1209.97,809.28 1211.26,810.11 1212.55,810.93 1213.84,811.75 1215.13,812.57 1216.42,813.38 1217.71,814.19 1219,814.99 1220.29,815.78 1221.59,816.57 1222.88,817.36 1224.17,818.14 1225.46,818.91 1226.75,819.68 1228.04,820.43 1229.33,821.19 1230.62,821.93 1231.91,822.67 1233.2,823.4 1234.5,824.12 1235.79,824.83 1237.08,825.54 1238.37,826.24 1239.66,826.93 1240.95,827.61 1242.24,828.28 1243.53,828.95 1244.82,829.6 1246.11,830.25 1247.41,830.88 1248.7,831.51 1249.99,832.13 1251.28,832.74 1252.57,833.34 1253.86,833.94 1255.15,834.52 1256.44,835.09 1257.73,835.66 1259.02,836.21 1260.31,836.76 1261.61,837.3 1262.9,837.83 1264.19,838.34 1265.48,838.85 1266.77,839.36 1268.06,839.85 1269.35,840.33 1270.64,840.8 1271.93,841.27 1273.22,841.73 1274.52,842.17 1275.81,842.61 1277.1,843.04 1278.39,843.46 1279.68,843.88 1280.97,844.28 1282.26,844.68 1283.55,845.07 1284.84,845.45 1286.13,845.82 1287.43,846.19 1288.72,846.55 1290.01,846.9 1291.3,847.24 1292.59,847.57 1293.88,847.9 1295.17,848.22 1296.46,848.54 1297.75,848.84 1299.04,849.14 1300.33,849.43 1301.63,849.72 1302.92,850 1304.21,850.27 1305.5,850.54 1306.79,850.8 1308.08,851.06 1309.37,851.31 1310.66,851.55 1311.95,851.79 1313.24,852.02 1314.54,852.24 1315.83,852.46 1317.12,852.68 1318.41,852.89 1319.7,853.09 1320.99,853.29 1322.28,853.49 1323.57,853.68 1324.86,853.87 1326.15,854.05 1327.45,854.22 1328.74,854.4 1330.03,854.56 1331.32,854.73 1332.61,854.89 1333.9,855.04" fill="none" stroke="#000" stroke-width="1.7" stroke-linejoin="round"/>
<path d="M947.9 726.4V755.8M940.3 726.4H955.5M940.3 755.8H955.5M994.1 737.5V759.8M986.5 737.5H1001.7M986.5 759.8H1001.7M1044.3 727.6V755.5M1036.7 727.6H1051.9M1036.7 755.5H1051.9M1090.4 737.1V762.2M1082.8 737.1H1098M1082.8 762.2H1098M1140.6 751.6V781.8M1133 751.6H1148.2M1133 781.8H1148.2M1186.6 793.8V809.4M1179 793.8H1194.2M1179 809.4H1194.2M1237.3 811V834M1229.7 811H1244.9M1229.7 834H1244.9M1333.9 850.8V868.9M1326.3 850.8H1341.5M1326.3 868.9H1341.5" stroke="#000" stroke-width="1.8" fill="none"/>
<circle cx="947.9" cy="741.2" r="7.8"/>
<circle cx="994.1" cy="748.8" r="7.8"/>
<circle cx="1044.3" cy="741.2" r="7.8"/>
<circle cx="1090.4" cy="749.4" r="7.8"/>
<circle cx="1140.6" cy="766.2" r="7.8"/>
<circle cx="1186.6" cy="801.7" r="7.8"/>
<circle cx="1237.3" cy="822.7" r="7.8"/>
<circle cx="1283.2" cy="839.9" r="7.8"/>
<circle cx="1333.9" cy="859.8" r="7.8"/>
<path d="M1531 641.95V1020.4M1529.15 1020.4H2122.7" stroke="#000" stroke-width="3.7" fill="none" stroke-linecap="butt"/>
<path d="M1514 643.8H1531M1514 769.1H1531M1514 895.4H1531M1514 1020.4H1531M1530.8 1020.4V1036.9M1629.4 1020.4V1036.9M1727.3 1020.4V1036.9M1826 1020.4V1036.9M1924.7 1020.4V1036.9M2022.6 1020.4V1036.9M2121.2 1020.4V1036.9" stroke="#000" stroke-width="3.6" fill="none"/>
<text transform="matrix(1 0 0 1.06 1463.8 647.7)" font-size="30.5">1.5</text>
<text transform="matrix(1 0 0 1.06 1463.7 776.1)" font-size="30.5">1.0</text>
<text transform="matrix(1 0 0 1.06 1463.8 904.4)" font-size="30.5">0.5</text>
<text transform="matrix(1 0 0 1.06 1489.1 1032.6)" font-size="30.5">0</text>
<text transform="matrix(1 0 0 1.06 1612.3 1066.7)" font-size="30.5">0.01</text>
<text transform="matrix(1 0 0 1.06 1709.55 1066.7)" font-size="30.5">0.1</text>
<text transform="matrix(1 0 0 1.06 1816.05 1066.7)" font-size="30.5">1</text>
<text transform="matrix(1 0 0 1.06 1916.6 1066.7)" font-size="30.5">10</text>
<text transform="matrix(1 0 0 1.06 2006.25 1066.7)" font-size="30.5">100</text>
<text x="1745.45" y="1116.2" font-size="40.4">QNHC (µM)</text>
<text transform="matrix(1 0 0 1.04 1818.65 688.9)" font-size="43.4">CC50=15.7 µM</text>
<polyline points="1629.4,767.18 1630.72,767.18 1632.03,767.18 1633.35,767.18 1634.66,767.18 1635.98,767.18 1637.29,767.18 1638.61,767.18 1639.93,767.18 1641.24,767.18 1642.56,767.18 1643.87,767.18 1645.19,767.18 1646.5,767.18 1647.82,767.18 1649.14,767.18 1650.45,767.18 1651.77,767.18 1653.08,767.18 1654.4,767.18 1655.71,767.18 1657.03,767.18 1658.35,767.18 1659.66,767.18 1660.98,767.18 1662.29,767.18 1663.61,767.18 1664.92,767.18 1666.24,767.18 1667.56,767.18 1668.87,767.18 1670.19,767.18 1671.5,767.18 1672.82,767.18 1674.13,767.18 1675.45,767.18 1676.77,767.18 1678.08,767.18 1679.4,767.18 1680.71,767.18 1682.03,767.18 1683.34,767.18 1684.66,767.18 1685.98,767.18 1687.29,767.18 1688.61,767.18 1689.92,767.18 1691.24,767.18 1692.55,767.18 1693.87,767.18 1695.19,767.18 1696.5,767.18 1697.82,767.18 1699.13,767.18 1700.45,767.18 1701.76,767.18 1703.08,767.18 1704.4,767.18 1705.71,767.18 1707.03,767.18 1708.34,767.18 1709.66,767.18 1710.97,767.18 1712.29,767.18 1713.61,767.18 1714.92,767.18 1716.24,767.18 1717.55,767.18 1718.87,767.18 1720.18,767.18 1721.5,767.18 1722.82,767.18 1724.13,767.18 1725.45,767.18 1726.76,767.18 1728.08,767.18 1729.39,767.18 1730.71,767.18 1732.03,767.18 1733.34,767.18 1734.66,767.18 1735.97,767.18 1737.29,767.18 1738.6,767.18 1739.92,767.18 1741.24,767.18 1742.55,767.18 1743.87,767.18 1745.18,767.18 1746.5,767.18 1747.81,767.19 1749.13,767.19 1750.45,767.19 1751.76,767.19 1753.08,767.19 1754.39,767.19 1755.71,767.19 1757.02,767.19 1758.34,767.19 1759.66,767.19 1760.97,767.19 1762.29,767.19 1763.6,767.19 1764.92,767.19 1766.23,767.19 1767.55,767.19 1768.87,767.19 1770.18,767.19 1771.5,767.19 1772.81,767.2 1774.13,767.2 1775.44,767.2 1776.76,767.2 1778.08,767.2 1779.39,767.2 1780.71,767.2 1782.02,767.2 1783.34,767.21 1784.65,767.21 1785.97,767.21 1787.29,767.21 1788.6,767.21 1789.92,767.22 1791.23,767.22 1792.55,767.22 1793.86,767.23 1795.18,767.23 1796.5,767.23 1797.81,767.24 1799.13,767.24 1800.44,767.25 1801.76,767.25 1803.07,767.26 1804.39,767.26 1805.71,767.27 1807.02,767.28 1808.34,767.28 1809.65,767.29 1810.97,767.3 1812.28,767.31 1813.6,767.32 1814.92,767.33 1816.23,767.34 1817.55,767.35 1818.86,767.36 1820.18,767.38 1821.49,767.39 1822.81,767.41 1824.13,767.43 1825.44,767.45 1826.76,767.47 1828.07,767.49 1829.39,767.51 1830.71,767.54 1832.02,767.57 1833.34,767.6 1834.65,767.63 1835.97,767.66 1837.28,767.7 1838.6,767.74 1839.92,767.78 1841.23,767.83 1842.55,767.88 1843.86,767.93 1845.18,767.99 1846.49,768.05 1847.81,768.11 1849.13,768.19 1850.44,768.26 1851.76,768.35 1853.07,768.43 1854.39,768.53 1855.7,768.63 1857.02,768.74 1858.34,768.86 1859.65,768.99 1860.97,769.13 1862.28,769.28 1863.6,769.44 1864.91,769.61 1866.23,769.79 1867.55,769.99 1868.86,770.21 1870.18,770.43 1871.49,770.68 1872.81,770.95 1874.12,771.23 1875.44,771.54 1876.76,771.86 1878.07,772.21 1879.39,772.59 1880.7,773 1882.02,773.43 1883.33,773.9 1884.65,774.4 1885.97,774.93 1887.28,775.5 1888.6,776.12 1889.91,776.78 1891.23,777.48 1892.54,778.23 1893.86,779.03 1895.18,779.89 1896.49,780.8 1897.81,781.78 1899.12,782.82 1900.44,783.93 1901.75,785.11 1903.07,786.37 1904.39,787.7 1905.7,789.12 1907.02,790.62 1908.33,792.21 1909.65,793.9 1910.96,795.68 1912.28,797.56 1913.6,799.54 1914.91,801.62 1916.23,803.82 1917.54,806.12 1918.86,808.53 1920.17,811.06 1921.49,813.7 1922.81,816.45 1924.12,819.31 1925.44,822.28 1926.75,825.36 1928.07,828.55 1929.38,831.83 1930.7,835.22 1932.02,838.69 1933.33,842.25 1934.65,845.89 1935.96,849.6 1937.28,853.37 1938.59,857.19 1939.91,861.06 1941.23,864.96 1942.54,868.88 1943.86,872.82 1945.17,876.76 1946.49,880.69 1947.8,884.6 1949.12,888.48 1950.44,892.32 1951.75,896.1 1953.07,899.83 1954.38,903.49 1955.7,907.08 1957.01,910.58 1958.33,913.99 1959.65,917.31 1960.96,920.53 1962.28,923.64 1963.59,926.65 1964.91,929.54 1966.22,932.33 1967.54,935 1968.86,937.56 1970.17,940.01 1971.49,942.35 1972.8,944.58 1974.12,946.7 1975.43,948.71 1976.75,950.63 1978.07,952.44 1979.38,954.15 1980.7,955.77 1982.01,957.3 1983.33,958.74 1984.64,960.1 1985.96,961.38 1987.28,962.59 1988.59,963.72 1989.91,964.78 1991.22,965.78 1992.54,966.71 1993.85,967.59 1995.17,968.41 1996.49,969.17 1997.8,969.89 1999.12,970.56 2000.43,971.19 2001.75,971.77 2003.06,972.32 2004.38,972.83 2005.7,973.31 2007.01,973.75 2008.33,974.16 2009.64,974.55 2010.96,974.91 2012.27,975.25 2013.59,975.56 2014.91,975.85 2016.22,976.12 2017.54,976.37 2018.85,976.61 2020.17,976.82 2021.48,977.03 2022.8,977.22" fill="none" stroke="#000" stroke-width="1.7" stroke-linejoin="round"/>
<path d="M1629.4 757.8V776M1621.8 757.8H1637M1621.8 776H1637M1676.5 748V768.7M1668.9 748H1684.1M1668.9 768.7H1684.1M1727.8 730.9V767.7M1720.2 730.9H1735.4M1720.2 767.7H1735.4M1774.8 760.2V792.7M1767.2 760.2H1782.4M1767.2 792.7H1782.4M1825.6 771.8V786.6M1818 771.8H1833.2M1818 786.6H1833.2M1872.9 768V787.8M1865.3 768H1880.5M1865.3 787.8H1880.5" stroke="#000" stroke-width="1.8" fill="none"/>
<circle cx="1629.4" cy="766.6" r="7.8"/>
<circle cx="1676.5" cy="758.1" r="7.8"/>
<circle cx="1727.8" cy="749.4" r="7.8"/>
<circle cx="1774.8" cy="776.2" r="7.8"/>
<circle cx="1825.6" cy="779.3" r="7.8"/>
<circle cx="1872.9" cy="777.9" r="7.8"/>
<circle cx="1924.6" cy="818.9" r="7.8"/>
<circle cx="1971.4" cy="943.8" r="7.8"/>
<circle cx="2022.8" cy="976.1" r="7.8"/>
<text transform="translate(59.3 402.7) rotate(-90)" font-size="40">Relative Luc signal</text>
<text transform="translate(63 1026.6) rotate(-90)" font-size="40">Relative Cell Survival</text>
<text transform="matrix(0.94 0 0 1 0.32 33.5)" font-size="47">a</text>
<text transform="matrix(1.0 0 0 1 4.4 615.3)" font-size="47">b</text>
</g></svg>
</body></html>
